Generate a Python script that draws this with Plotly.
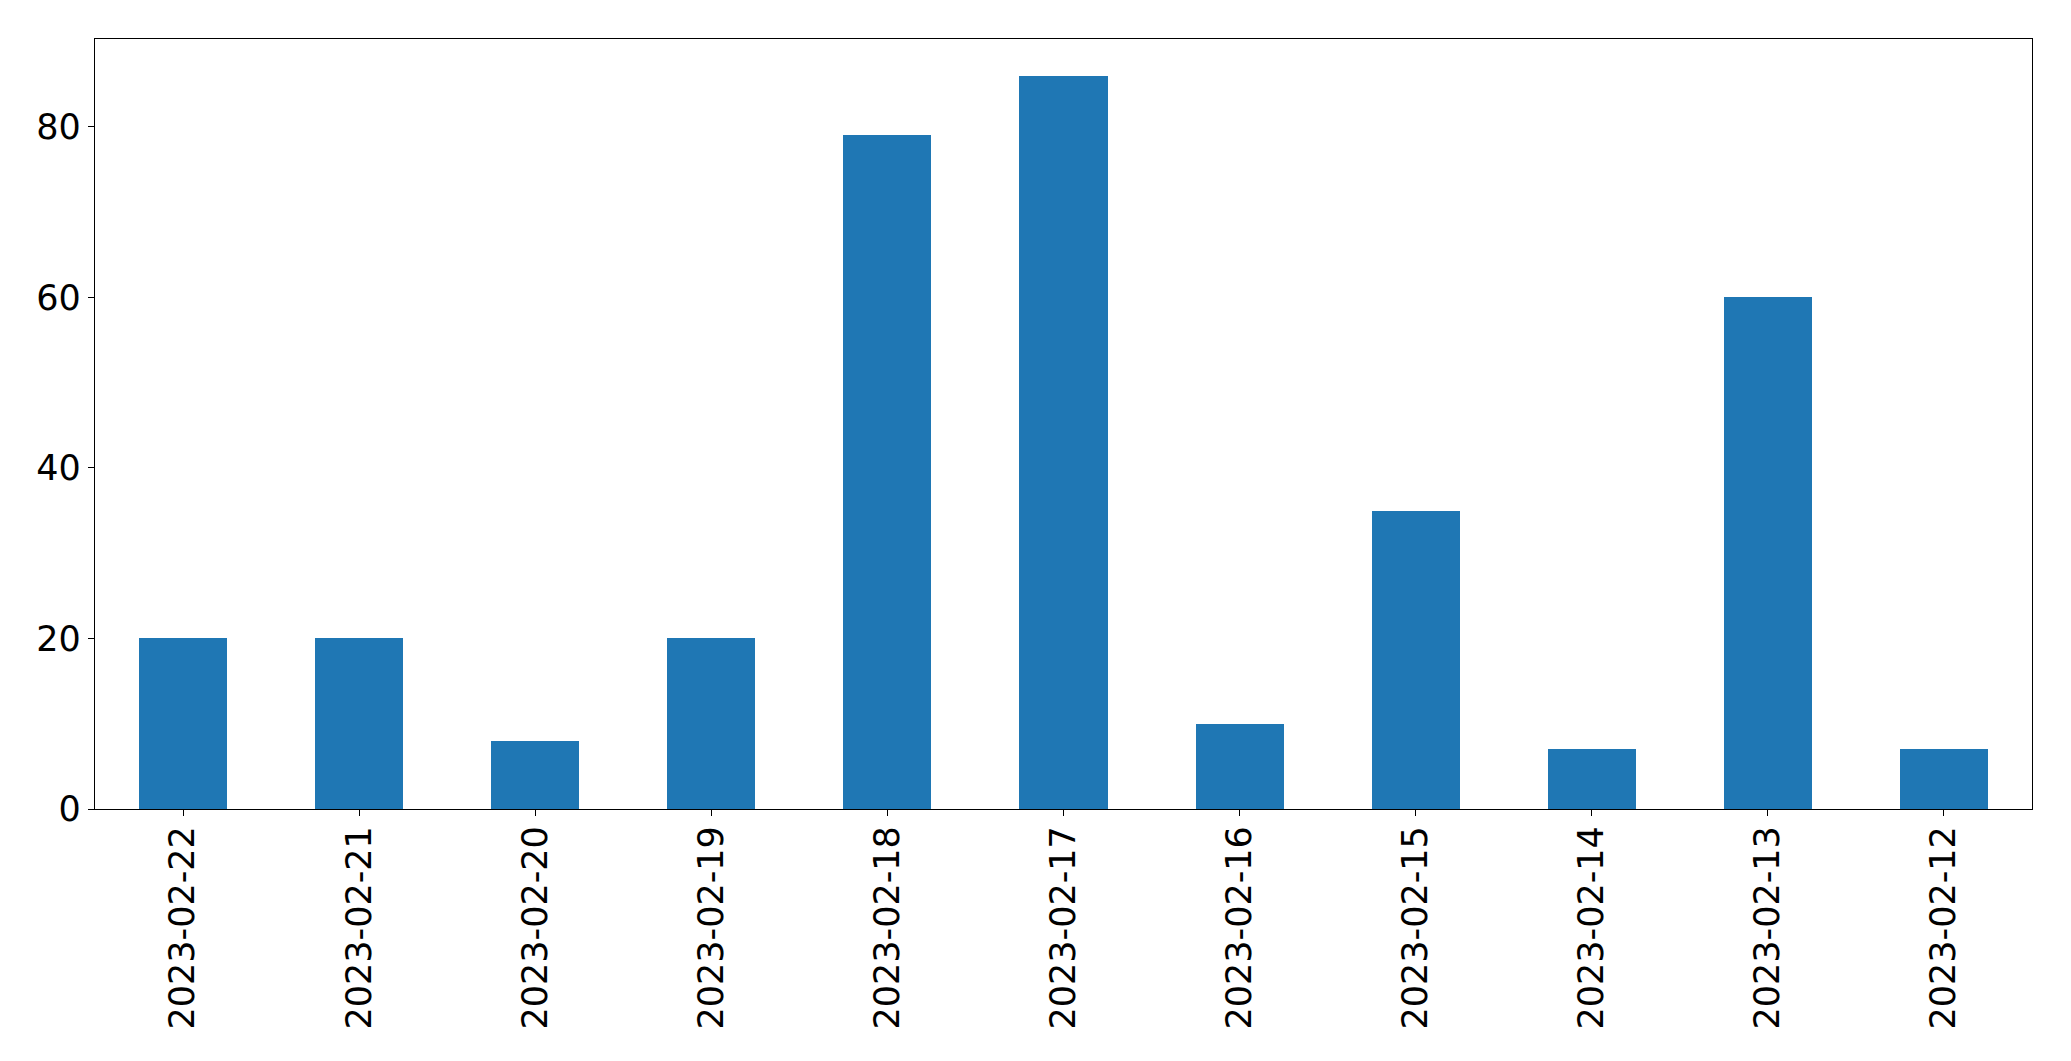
import plotly.graph_objects as go

dates = ["2023-02-22", "2023-02-21", "2023-02-20", "2023-02-19", "2023-02-18",
         "2023-02-17", "2023-02-16", "2023-02-15", "2023-02-14", "2023-02-13", "2023-02-12"]
counts = [20, 20, 8, 20, 79, 86, 10, 35, 7, 60, 7]
y_ticks = [0, 20, 40, 60, 80]

fig = go.Figure(go.Bar(x=dates, y=counts, marker_color="#1f77b4", marker_line_width=0, width=0.5))

axis_common = dict(showline=True, linecolor="black", linewidth=1.3, mirror=True,
                   ticks="outside", ticklen=6, tickwidth=1.3, tickcolor="black",
                   showgrid=False, zeroline=False, automargin=False,
                   tickfont=dict(family="DejaVu Sans", size=35, color="black"))

fig.update_layout(
    width=2071, height=1061,
    margin=dict(l=87, r=47, t=31, b=260),
    paper_bgcolor="white", plot_bgcolor="white",
    showlegend=False,
    bargap=0,
    xaxis=dict(type="category", tickangle=-90, range=[-0.5, 10.5], ticklabelstandoff=-4, **axis_common),
    yaxis=dict(range=[0, 90.3], tickvals=y_ticks, ticklabelstandoff=0, **axis_common),
)

fig.write_html("out.html")
